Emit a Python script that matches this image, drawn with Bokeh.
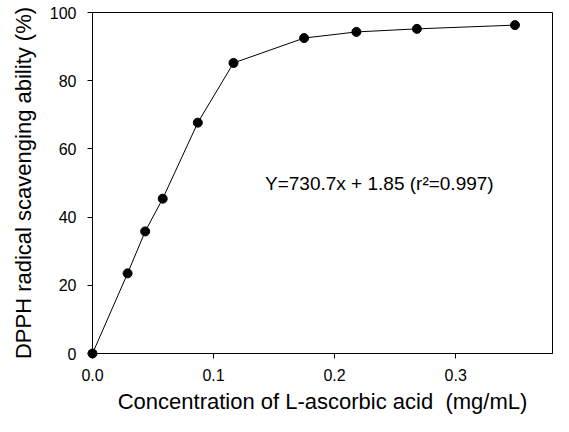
from bokeh.plotting import figure
from bokeh.models import Range1d, FixedTicker, Label
from bokeh.embed import file_html
from bokeh.resources import INLINE

# Data
conc = [0.0, 0.029, 0.0435, 0.058, 0.087, 0.1165, 0.1748, 0.218, 0.268, 0.349]
scav = [0.0, 23.5, 35.8, 45.4, 67.7, 85.2, 92.5, 94.3, 95.2, 96.3]
x_ticks = [0.0, 0.1, 0.2, 0.3]
x_tick_labels = {0.0: "0.0", 0.1: "0.1", 0.2: "0.2", 0.3: "0.3"}
y_ticks = [0, 20, 40, 60, 80, 100]
equation = "Y=730.7x + 1.85 (r\u00b2=0.997)"
eq_pos = (0.1425, 49.8)

FONT = "Liberation Sans"

p = figure(width=553, height=416, output_backend="svg", toolbar_location=None,
           x_range=Range1d(0, 0.38), y_range=Range1d(0, 100),
           min_border_left=92, min_border_right=1, min_border_top=12, min_border_bottom=50)

p.grid.visible = False
p.outline_line_color = "black"
p.outline_line_width = 1
p.background_fill_color = "white"
p.border_fill_color = "white"

p.line(conc, scav, line_color="black", line_width=1, level="overlay")
p.scatter(conc, scav, size=9, fill_color="black", line_color="black", level="overlay")

p.xaxis.ticker = FixedTicker(ticks=x_ticks)
p.xaxis.major_label_overrides = x_tick_labels
p.yaxis.ticker = FixedTicker(ticks=y_ticks)

for ax in (p.xaxis[0], p.yaxis[0]):
    ax.axis_line_color = "black"
    ax.major_tick_line_color = "black"
    ax.minor_tick_line_color = None
    ax.major_tick_in = 0
    ax.major_tick_out = 5
    ax.major_label_text_font = FONT
    ax.major_label_text_font_size = "16px"
    ax.major_label_text_color = "black"
    ax.axis_label_text_font = FONT
    ax.axis_label_text_font_size = "22px"
    ax.axis_label_text_font_style = "normal"
    ax.axis_label_text_color = "black"

p.xaxis.axis_label = "Concentration of L-ascorbic acid \u00a0(mg/mL)"
p.yaxis.axis_label = "DPPH radical scavenging ability (%)"
p.xaxis.major_label_standoff = 10
p.yaxis.major_label_standoff = 11
p.xaxis.axis_label_standoff = 5
p.yaxis.axis_label_standoff = 11

lab = Label(x=eq_pos[0], y=eq_pos[1], text=equation, text_font=FONT,
            text_font_size="19px", text_color="black", text_baseline="alphabetic")
p.add_layout(lab)

open("out.html", "w").write(file_html(p, INLINE))
